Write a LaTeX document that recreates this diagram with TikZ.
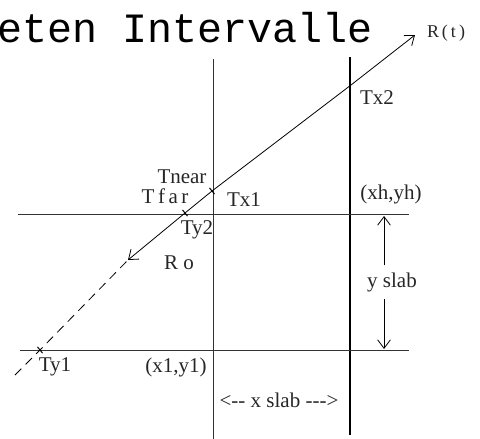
\documentclass[tikz,border=0pt]{standalone}
\usepackage{fontspec}
\setmainfont{Liberation Serif}
\newfontfamily\titlefont{Liberation Mono}
\usetikzlibrary{positioning,arrows.meta,calc}

\begin{document}
\begin{tikzpicture}[x=1pt,y=-1pt,>={Straight Barb[length=3mm,width=4.5mm]},
  slab/.style={line width=0.8pt,draw=black!80},
  lbl/.style={inner sep=0pt,font=\fontsize{21}{23}\selectfont,text=black!85}]
\useasboundingbox (0,0) rectangle (480,439);
\node[anchor=base west,inner sep=0pt,font=\titlefont\fontsize{41.7}{44}\selectfont] (title) at (-3,42) {eten Intervalle};

% slab lines
\coordinate (xlotop) at (213,59);  \coordinate (xlobot) at (213,439);
\coordinate (xhitop) at (350,57);  \coordinate (xhibot) at (350,435);
\coordinate (yhileft) at (18,214); \coordinate (yhiright) at (409,214);
\coordinate (yloleft) at (20,350); \coordinate (yloright) at (409,350);
\draw[slab] (xlotop) -- (xlobot);
\draw[slab,line width=1.6pt,draw=black] (xhitop) -- (xhibot);
\draw[slab] (yhileft) -- (yhiright);
\draw[slab] (yloleft) -- (yloright);

% the ray
\coordinate (start) at (15,375);
\coordinate (ty1) at (40,350);
\coordinate (ro) at (128,260);
\coordinate (tfar) at (185,213);
\coordinate (tnear) at (212,191);
\coordinate (tx2) at (351,85);
\coordinate (rt) at (415,35);
\draw[line width=0.8pt,dash pattern=on 9pt off 6pt] (start) -- (ty1) -- (ro);
\draw[line width=0.8pt,<->] (ro) -- (tfar) -- (tnear) -- (tx2) -- (rt);
\foreach \p in {ty1,tfar,tnear}
  \draw[line width=1pt] (\p) ++(-2.5,-3.1) -- ++(5,6.2);

% labels
\node[lbl] (lnear) at (182,177) {Tnear};
\node[lbl] (lfar) at (165,196) {T\,f\,a\,r};
\node[lbl] (ltx1) at (244,200) {Tx1};
\node[lbl] (lty2) at (197,230) {Ty2};
\node[lbl] (lro) at (179,263) {R o};
\node[lbl] (lty1) at (55,367) {Ty1};
\node[lbl] (llow) at (176,367) {(x1,y1)};
\node[lbl] (lhigh) at (391,194) {(xh,yh)};
\node[lbl] (ltx2) at (377,98) {Tx2};
\node[lbl,font=\fontsize{18}{20}\selectfont] (lrt) at (446,33) {R\hspace{3pt}(\hspace{3pt}t\hspace{3pt})};

% slab widths
\coordinate (ytop) at (384,216);
\coordinate (ybot) at (384,349);
\node[lbl] (yslab) at (392,282) {y slab};
\draw[line width=0.8pt,->,shorten <=7pt] (yslab.north -| ytop) -- (ytop);
\draw[line width=0.8pt,->,shorten <=7pt] (yslab.south -| ybot) -- (ybot);
\node[lbl] (xslab) at (279,400) {<-{}- x slab -{}-{}->};
\end{tikzpicture}
\end{document}
